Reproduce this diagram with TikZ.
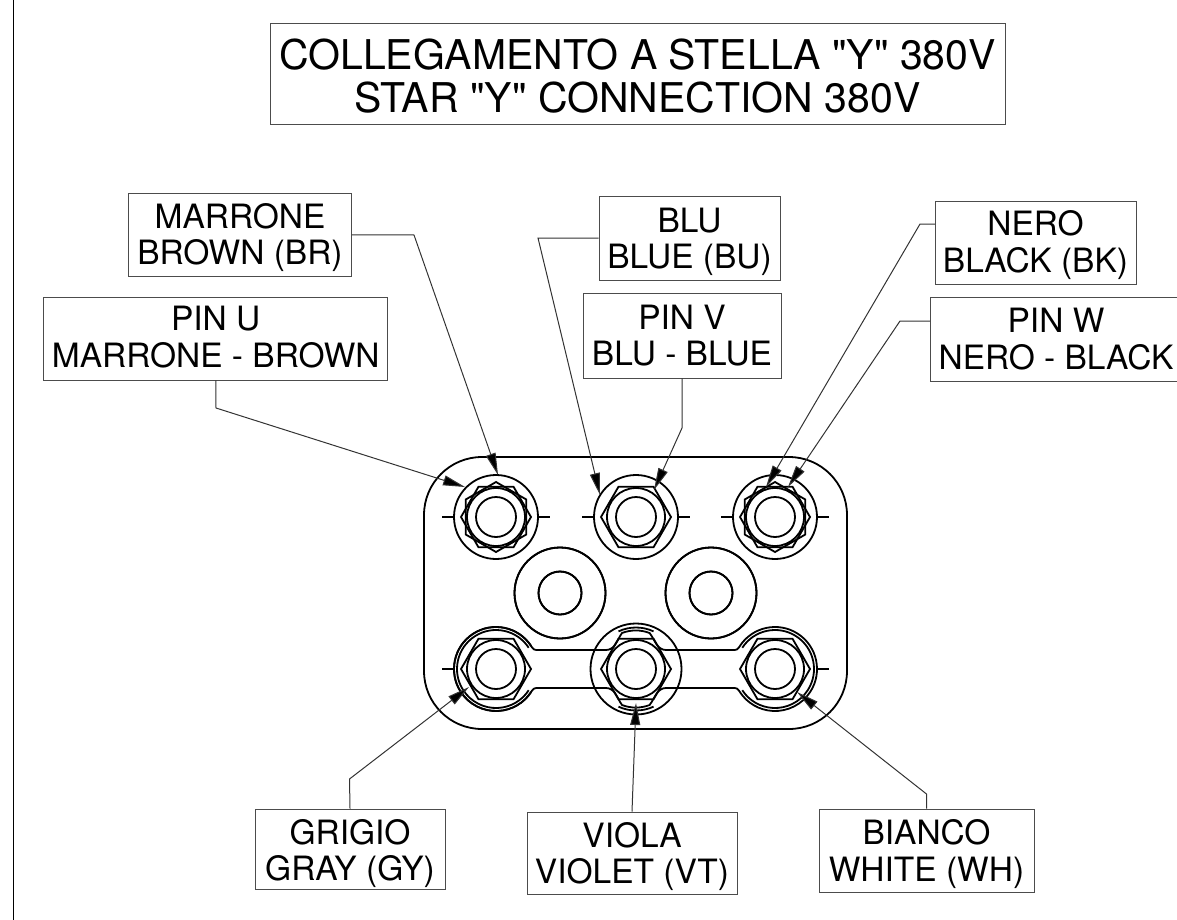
\documentclass[tikz,border=0pt]{standalone}
\usepackage{fontspec}
\setmainfont[Ligatures=TeXOff]{TeX Gyre Heros}
\usetikzlibrary{arrows.meta}
\tikzset{
    labelbox/.style={draw=black!70,line width=.9pt,align=center,inner sep=0pt,font=\fontsize{33.5}{36.5}\selectfont},
    leader/.style={draw=black!80,line width=1pt,-{Triangle[length=22pt,width=10pt,fill=black]}},
    part/.style={draw=black,line width=1.8pt}
}
\newcommand{\hexnut}[3]{\draw[part,shift={(#1,#2)},rotate=#3] (0:35) -- (60:35) -- (120:35) -- (180:35) -- (240:35) -- (300:35) -- cycle;}
\newcommand{\drop}[1]{\rule{0pt}{#1pt}}
\begin{document}
\begin{tikzpicture}[x=1pt,y=-1pt]
    \useasboundingbox (0,0) rectangle (1177,920);
    \draw[black,line width=1.2pt] (13.5,0) -- (13.5,920);
    % title
    \node[labelbox,font=\fontsize{41}{43}\selectfont,minimum width=735pt,minimum height=101pt] (title) at (637.5,73.5) {\drop{35}COLLEGAMENTO A STELLA "Y" 380V\\STAR "Y" CONNECTION 380V};
    % labels
    \node[labelbox,minimum width=223pt,minimum height=83pt] (marrone) at (240,234.75) {\drop{31}MARRONE\\BROWN (BR)};
    \node[labelbox,minimum width=344pt,minimum height=83pt] (pinu) at (215.75,338.5) {PIN U\\MARRONE - BROWN\rule[-3pt]{0pt}{3pt}};
    \node[labelbox,minimum width=181pt,minimum height=84pt] (blu) at (689.5,238) {\drop{32}BLU\\BLUE (BU)};
    \node[labelbox,minimum width=198pt,minimum height=85pt] (pinv) at (682,335.5) {PIN V\\BLU - BLUE};
    \node[labelbox,minimum width=201pt,minimum height=83pt] (nero) at (1035.5,242.5) {\drop{30}NERO\\BLACK (BK)};
    \node[labelbox,minimum width=252pt,minimum height=84pt] (pinw) at (1056,339) {PIN W\\NERO - BLACK};
    \node[labelbox,minimum width=190pt,minimum height=80pt] (grigio) at (350,849) {\drop{34}GRIGIO\\GRAY (GY)};
    \node[labelbox,minimum width=210pt,minimum height=82pt] (viola) at (632,853) {\drop{32}VIOLA\\VIOLET (VT)};
    \node[labelbox,minimum width=215pt,minimum height=83pt] (bianco) at (926.5,850.5) {\drop{32}BIANCO\\WHITE (WH)};
    % plate
    \draw[part] (424,515) arc (180:270:58) -- (789,457) arc (270:360:58) -- (847,671) arc (0:90:58) -- (482,729) arc (90:180:58) -- cycle;
    % studs
    \foreach \x in {496,636,775}
        \foreach \y in {517,669} {
            \draw[part] (\x,\y) circle (20);
            \draw[part] (\x,\y) circle (29);
            \hexnut{\x}{\y}{0}
        }
    \foreach \x in {496,636,775} {
        \draw[part] (\x,517) circle (42);
        \draw[part] (\x-54,517) -- (\x-42,517);
        \draw[part] (\x+42,517) -- (\x+54,517);
    }
    \foreach \x in {496,775}
        \hexnut{\x}{517}{30}
    % middle washers
    \foreach \x in {560,711} {
        \draw[part] (\x,593) circle (45.5);
        \draw[part] (\x,593) circle (21.5);
    }
    % link
    \draw[part] (496,669) ++(-33:42) arc (-33:-327:42);
    \draw[part] (496,669) ++(-33:39) arc (-33:-327:39);
    \draw[part] (775,669) ++(-147:42) arc (-147:147:42);
    \draw[part] (775,669) ++(-147:39) arc (-147:147:39);
    \draw[part] (531,646) .. controls (534,650) .. (539,650) -- (606,650) .. controls (615,650) and (617,640) .. (622,633) arc (-111:-69:38.5) .. controls (655,640) and (657,650) .. (666,650) -- (732,650) .. controls (737,650) .. (740,646);
    \draw[part] (531,692) .. controls (534,688) .. (539,688) -- (606,688) .. controls (615,688) and (617,698) .. (622,705) arc (111:69:38.5) .. controls (655,698) and (657,688) .. (666,688) -- (732,688) .. controls (737,688) .. (740,692);
    \draw[part] (636,669) circle (45.5);
    \draw[part] (636,669) ++(-115:41.5) arc (-115:-65:41.5);
    \draw[part] (636,669) ++(115:41.5) arc (115:65:41.5);
    \draw[part] (442,669) -- (454,669);
    \draw[part] (817,669) -- (829,669);
    % leaders
    \coordinate (marroneelbow) at (414,235);
    \coordinate (marronetip) at (498,475);
    \coordinate (pinuelbow) at (216,408);
    \coordinate (pinutip) at (465,487);
    \coordinate (bluelbow) at (538,238);
    \coordinate (blutip) at (600,495);
    \coordinate (pinvelbow) at (682,428);
    \coordinate (pinvtip) at (654,490);
    \coordinate (nerostart) at (935,224);
    \coordinate (neroelbow) at (920,224);
    \coordinate (nerotip) at (766,487);
    \coordinate (pinwstart) at (930,321);
    \coordinate (pinwelbow) at (900,321);
    \coordinate (pinwtip) at (788,487);
    \coordinate (grigioelbow) at (349.5,779);
    \coordinate (grigiotip) at (469,687);
    \coordinate (violatip) at (636,703);
    \coordinate (biancoelbow) at (926.5,794);
    \coordinate (biancotip) at (797,692);
    \draw[leader] (marrone.east) -- (marroneelbow) -- (marronetip);
    \draw[leader] (pinu.south) -- (pinuelbow) -- (pinutip);
    \draw[leader] (blu.west) -- (bluelbow) -- (blutip);
    \draw[leader] (pinv.south) -- (pinvelbow) -- (pinvtip);
    \draw[leader] (nerostart) -- (neroelbow) -- (nerotip);
    \draw[leader] (pinwstart) -- (pinwelbow) -- (pinwtip);
    \draw[leader] (grigio.north) -- (grigioelbow) -- (grigiotip);
    \draw[leader] (viola.north) -- (violatip);
    \draw[leader] (bianco.north) -- (biancoelbow) -- (biancotip);
\end{tikzpicture}
\end{document}
